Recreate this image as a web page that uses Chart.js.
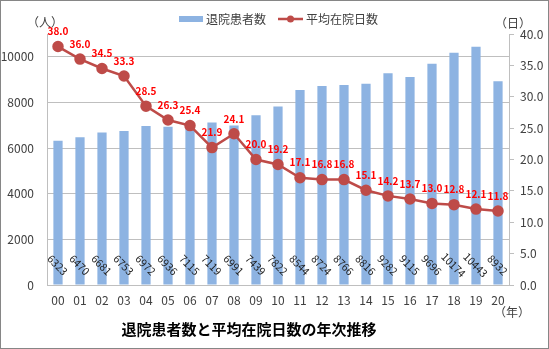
<!DOCTYPE html>
<html lang="ja">
<head>
    <meta charset="UTF-8">
    <title>退院患者数と平均在院日数の年次推移</title>
    <script src="https://cdn.jsdelivr.net/npm/chart.js"></script>
    <style>
        body {
            margin: 0;
            padding: 0;
            background: #ffffff;
        }
        #wrap {
            width: 549px;
            height: 349px;
            position: relative;
        }
    </style>
</head>
<body>
    <div id="wrap">
        <canvas id="chart"></canvas>
    </div>

    <script>
        // data
        const years = ['00', '01', '02', '03', '04', '05', '06', '07', '08', '09', '10',
                       '11', '12', '13', '14', '15', '16', '17', '18', '19', '20'];
        const patients = [6323, 6470, 6681, 6753, 6972, 6936, 7115, 7119, 6991, 7439, 7822,
                          8544, 8724, 8766, 8816, 9282, 9115, 9696, 10174, 10443, 8932];
        const avgDays = [38.0, 36.0, 34.5, 33.3, 28.5, 26.3, 25.4, 21.9, 24.1, 20.0, 19.2,
                         17.1, 16.8, 16.8, 15.1, 14.2, 13.7, 13.0, 12.8, 12.1, 11.8];
        const leftTicks = [0, 2000, 4000, 6000, 8000, 10000];
        const rightTicks = [0, 5, 10, 15, 20, 25, 30, 35, 40];

        const FONT = '"Noto Sans CJK JP", "Noto Sans", sans-serif';
        const barColor = '#8DB3E2';
        const lineColor = '#BE4B48';

        // frame, legend, axis units, title and value labels
        const decorations = {
            id: 'decorations',
            beforeDraw(chart) {
                const ctx = chart.ctx;
                ctx.save();
                ctx.fillStyle = '#ffffff';
                ctx.fillRect(0, 0, chart.width, chart.height);
                ctx.restore();
            },
            afterDatasetsDraw(chart) {
                const ctx = chart.ctx;
                ctx.save();

                // bar values, rotated
                const bars = chart.getDatasetMeta(0).data;
                ctx.font = '10.5px ' + FONT;
                ctx.fillStyle = '#222222';
                ctx.textAlign = 'center';
                ctx.textBaseline = 'middle';
                bars.forEach((bar, i) => {
                    ctx.save();
                    ctx.translate(bar.x - 0.5, 265);
                    ctx.rotate(Math.PI / 4);
                    ctx.fillText(String(patients[i]), 0, 0);
                    ctx.restore();
                });

                // line values
                const pts = chart.getDatasetMeta(1).data;
                ctx.font = 'bold 10px ' + FONT;
                ctx.fillStyle = '#FF0000';
                pts.forEach((p, i) => {
                    ctx.fillText(avgDays[i].toFixed(1), p.x, p.y - 15);
                });
                ctx.restore();
            },
            afterDraw(chart) {
                const ctx = chart.ctx;
                ctx.save();

                // outer frame
                ctx.strokeStyle = '#868686';
                ctx.lineWidth = 1;
                ctx.strokeRect(0.5, 0.5, chart.width - 1, chart.height - 1);

                ctx.fillStyle = '#404040';
                ctx.textBaseline = 'middle';
                ctx.textAlign = 'center';
                ctx.font = '12px ' + FONT;
                ctx.fillText('（人）', 45, 22);
                ctx.fillText('（日）', 513, 23);
                ctx.fillText('（年）', 512, 312);

                // legend
                ctx.fillStyle = barColor;
                ctx.fillRect(179, 16, 24, 6);
                ctx.fillStyle = '#404040';
                ctx.textAlign = 'left';
                ctx.fillText('退院患者数', 206, 19);

                ctx.strokeStyle = lineColor;
                ctx.lineWidth = 2.5;
                ctx.beginPath();
                ctx.moveTo(278, 19);
                ctx.lineTo(303, 19);
                ctx.stroke();
                ctx.fillStyle = lineColor;
                ctx.beginPath();
                ctx.arc(290.5, 19, 3.5, 0, Math.PI * 2);
                ctx.fill();
                ctx.fillStyle = '#404040';
                ctx.fillText('平均在院日数', 306, 19);

                // title
                ctx.fillStyle = '#000000';
                ctx.textAlign = 'center';
                ctx.font = 'bold 15px ' + FONT;
                ctx.fillText('退院患者数と平均在院日数の年次推移', 249, 329);
                ctx.restore();
            }
        };

        new Chart(document.getElementById('chart'), {
            data: {
                labels: years,
                datasets: [
                    {
                        type: 'bar',
                        label: '退院患者数',
                        data: patients,
                        backgroundColor: barColor,
                        borderWidth: 0,
                        barPercentage: 0.42,
                        categoryPercentage: 1.0,
                        yAxisID: 'y',
                        order: 2
                    },
                    {
                        type: 'line',
                        label: '平均在院日数',
                        data: avgDays,
                        borderColor: lineColor,
                        backgroundColor: lineColor,
                        borderWidth: 2.5,
                        pointRadius: 4.5,
                        pointBackgroundColor: lineColor,
                        pointBorderColor: lineColor,
                        tension: 0,
                        yAxisID: 'y1',
                        order: 1
                    }
                ]
            },
            options: {
                responsive: true,
                maintainAspectRatio: false,
                animation: false,
                layout: {
                    padding: { left: 0, right: 0, top: 34, bottom: 0 }
                },
                plugins: {
                    legend: { display: false },
                    title: { display: false },
                    tooltip: { enabled: false }
                },
                scales: {
                    x: {
                        offset: true,
                        grid: { display: false, drawTicks: false },
                        border: { display: true, color: '#BFBFBF', width: 1 },
                        ticks: {
                            color: '#404040',
                            font: { size: 12, family: FONT },
                            padding: 8,
                            maxRotation: 0,
                            autoSkip: false
                        },
                        afterFit(scale) { scale.height = 64; }
                    },
                    y: {
                        position: 'left',
                        min: 0,
                        max: 11000,
                        afterBuildTicks(axis) {
                            axis.ticks = leftTicks.map(v => ({ value: v }));
                        },
                        ticks: {
                            autoSkip: false,
                            color: '#404040',
                            font: { size: 12, family: FONT },
                            padding: 13,
                            callback: v => String(v)
                        },
                        grid: {
                            color: '#BFBFBF',
                            lineWidth: 1,
                            drawTicks: false
                        },
                        border: { display: true, color: '#BFBFBF', width: 1 },
                        afterFit(scale) { scale.width = 47; }
                    },
                    y1: {
                        position: 'right',
                        min: 0,
                        max: 40,
                        afterBuildTicks(axis) {
                            axis.ticks = rightTicks.map(v => ({ value: v }));
                        },
                        ticks: {
                            autoSkip: false,
                            color: '#404040',
                            font: { size: 12, family: FONT },
                            padding: 6,
                            callback: v => Number(v).toFixed(1)
                        },
                        grid: {
                            drawOnChartArea: false,
                            drawTicks: true,
                            tickLength: 5,
                            color: '#BFBFBF'
                        },
                        border: { display: true, color: '#BFBFBF', width: 1 },
                        afterFit(scale) { scale.width = 40; }
                    }
                }
            },
            plugins: [decorations]
        });
    </script>
</body>
</html>
